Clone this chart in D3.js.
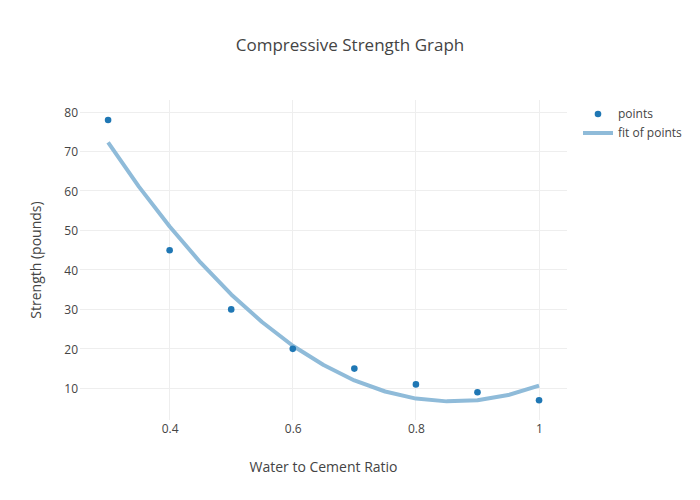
<!DOCTYPE html>
<html>
<head>
<meta charset="utf-8">
<script src="https://cdn.jsdelivr.net/npm/d3@7"></script>
<style>
  html, body { margin: 0; padding: 0; background: #fff; }
  svg { display: block; font-family: "Open Sans", sans-serif; }
</style>
</head>
<body>
<svg id="chart" width="700" height="500"></svg>
<script>
// ---- data ----
const pointX = [0.3, 0.4, 0.5, 0.6, 0.7, 0.8, 0.9, 1.0];
const pointY = [78, 45, 30, 20, 15, 11, 9, 7];
const fitX = [0.3, 0.35, 0.4, 0.45, 0.5, 0.55, 0.6, 0.65, 0.7, 0.75, 0.8, 0.85, 0.9, 0.95, 1.0];
const fitY = [72.3, 61.1, 51.0, 41.9, 33.8, 26.8, 20.8, 15.9, 12.0, 9.2, 7.4, 6.7, 7.0, 8.3, 10.7];
const xTicks = [0.4, 0.6, 0.8, 1];
const xTickLabels = ["0.4", "0.6", "0.8", "1"];
const yTicks = [10, 20, 30, 40, 50, 60, 70, 80];
const seriesNames = ["points", "fit of points"];
const titleText = "Compressive Strength Graph";
const xTitle = "Water to Cement Ratio";
const yTitle = "Strength (pounds)";

// ---- layout ----
const W = 700, H = 500;
const plot = { left: 80, right: 567, top: 100, bottom: 420 };
const textColor = "#444";
const markerColor = "#1f77b4";
const lineColor = "rgb(143,187,217)";

const svg = d3.select("#chart");
svg.append("rect").attr("width", W).attr("height", H).attr("fill", "#fff");

const x = d3.scaleLinear().domain([0.2544, 1.0454]).range([plot.left, plot.right]);
const y = d3.scaleLinear().domain([1.98, 83.05]).range([plot.bottom, plot.top]);

// gridlines
const grid = svg.append("g");
grid.selectAll("line.gx").data(xTicks).enter().append("line")
  .attr("x1", d => x(d)).attr("x2", d => x(d))
  .attr("y1", plot.top).attr("y2", plot.bottom)
  .attr("stroke", "#eee").attr("stroke-width", 1).attr("shape-rendering", "crispEdges");
grid.selectAll("line.gy").data(yTicks).enter().append("line")
  .attr("y1", d => y(d)).attr("y2", d => y(d))
  .attr("x1", plot.left).attr("x2", plot.right)
  .attr("stroke", "#eee").attr("stroke-width", 1).attr("shape-rendering", "crispEdges");

// axes (labels only, plotly-like)
const xAxis = d3.axisBottom(x).tickValues(xTicks).tickFormat((d, i) => xTickLabels[i]).tickSize(0).tickPadding(0);
const gx = svg.append("g").attr("transform", `translate(0,${plot.bottom})`).call(xAxis);
gx.select(".domain").remove();
gx.selectAll("text").attr("fill", textColor).attr("font-size", 12)
  .attr("font-family", "'Open Sans', sans-serif").attr("dy", null).attr("y", 13);

const yAxis = d3.axisLeft(y).tickValues(yTicks).tickFormat(d3.format("d")).tickSize(0).tickPadding(0);
const gy = svg.append("g").attr("transform", `translate(${plot.left},0)`).call(yAxis);
gy.select(".domain").remove();
gy.selectAll("text").attr("fill", textColor).attr("font-size", 12)
  .attr("font-family", "'Open Sans', sans-serif").attr("x", -2).attr("dy", "0.35em");

// fit line
const fitData = fitX.map((v, i) => [v, fitY[i]]);
svg.append("path").datum(fitData)
  .attr("d", d3.line().x(d => x(d[0])).y(d => y(d[1])))
  .attr("fill", "none").attr("stroke", lineColor).attr("stroke-width", 4)
  .attr("stroke-linejoin", "round");

// points
const ptData = pointX.map((v, i) => [v, pointY[i]]);
svg.append("g").selectAll("circle").data(ptData).enter().append("circle")
  .attr("cx", d => x(d[0])).attr("cy", d => y(d[1])).attr("r", 3.3)
  .attr("fill", markerColor);

// title
svg.append("text").attr("x", 350).attr("y", 51).attr("text-anchor", "middle")
  .attr("font-size", 17).attr("fill", textColor).text(titleText);

// axis titles
svg.append("text").attr("x", (plot.left + plot.right) / 2).attr("y", 472)
  .attr("text-anchor", "middle").attr("font-size", 14).attr("fill", textColor).text(xTitle);
svg.append("text").attr("transform", `translate(41,${(plot.top + plot.bottom) / 2}) rotate(-90)`)
  .attr("text-anchor", "middle").attr("font-size", 14).attr("fill", textColor).text(yTitle);

// legend
const lg = svg.append("g").attr("transform", "translate(578,0)");
const items = lg.selectAll("g").data(seriesNames).enter().append("g")
  .attr("transform", (d, i) => `translate(0,${114 + i * 19})`);
items.filter((d, i) => i === 0).append("circle").attr("cx", 20).attr("cy", 0).attr("r", 3.3).attr("fill", markerColor);
items.filter((d, i) => i === 1).append("line").attr("x1", 5).attr("x2", 35).attr("y1", 0).attr("y2", 0)
  .attr("stroke", lineColor).attr("stroke-width", 4);
items.append("text").attr("x", 40).attr("y", 0).attr("dy", "0.35em")
  .attr("font-size", 12).attr("fill", textColor).text(d => d);
</script>
</body>
</html>
